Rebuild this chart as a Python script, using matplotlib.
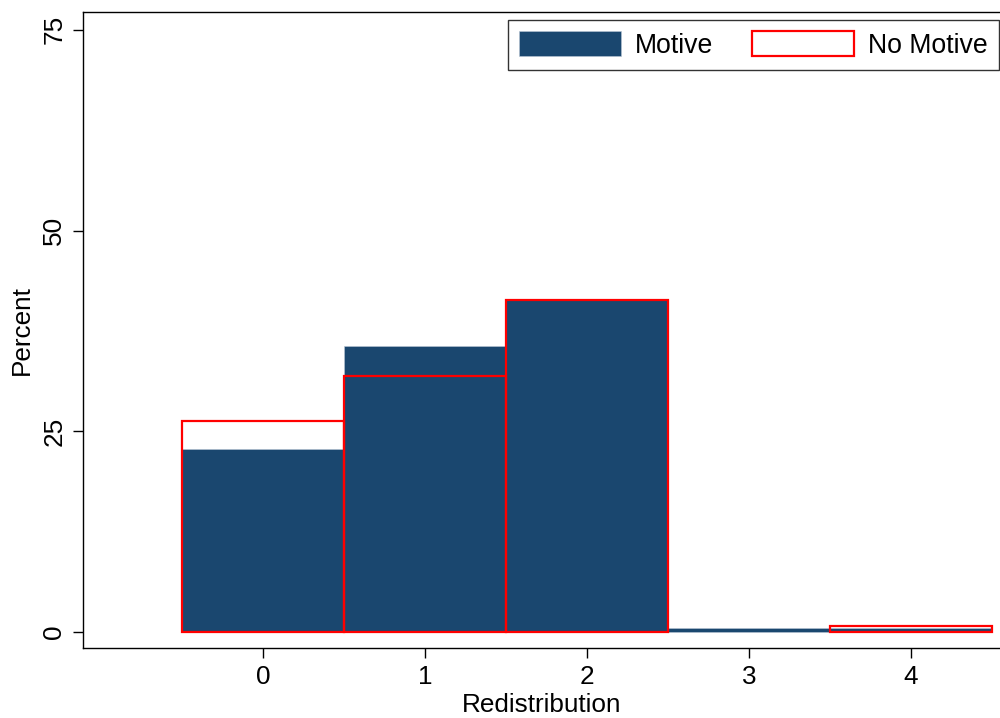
import numpy as np
import matplotlib
matplotlib.use("Agg")
import matplotlib.pyplot as plt

plt.rcParams['font.family'] = ['Liberation Sans', 'DejaVu Sans']

# 数据
categories = [0, 1, 2, 3, 4]
motive = [22.8, 35.6, 41.5, 0.5, 0.5]
no_motive = [26.3, 31.9, 41.4, 0.0, 0.75]

navy = '#1a476f'
red = '#ff0000'
fs = 18.8

fig = plt.figure(figsize=(10, 7.18), dpi=100)
ax = fig.add_axes([0.083, 0.0975, 0.917, 0.8855])

ax.bar(categories, motive, width=1.0, color=navy, edgecolor='#b9c7d6', linewidth=0.4,
       label='Motive', zorder=2)
edge = [red if v > 0 else 'none' for v in no_motive]
ax.bar(categories, no_motive, width=1.0, facecolor='none', edgecolor=edge, linewidth=1.6,
       label='No Motive', zorder=3)

ax.set_xlim(-1.11, 4.55)
ax.set_ylim(-2.0, 77.2)
ax.set_xticks(categories)
ax.set_yticks([0, 25, 50, 75])
ax.tick_params(axis='both', direction='out', length=7, width=1.0, labelsize=fs, pad=5)
for lab in ax.get_yticklabels():
    lab.set_rotation(90)
    lab.set_va('center')
ax.set_xlabel('Redistribution', fontsize=fs, labelpad=3)
ax.set_ylabel('Percent', fontsize=fs, labelpad=6)
ax.spines['right'].set_visible(False)
for s in ax.spines.values():
    s.set_linewidth(1.0)

leg = ax.legend(loc='upper right', bbox_to_anchor=(0.999, (718 - 20) / 718),
                bbox_transform=fig.transFigure, ncol=2, fontsize=19.2, frameon=True,
                fancybox=False, edgecolor='black', handlelength=3.8, handleheight=1.05,
                columnspacing=1.45, borderaxespad=0, handletextpad=0.55, borderpad=0.42)
leg.get_frame().set_linewidth(1.0)

fig.savefig('out.png', dpi=100)
